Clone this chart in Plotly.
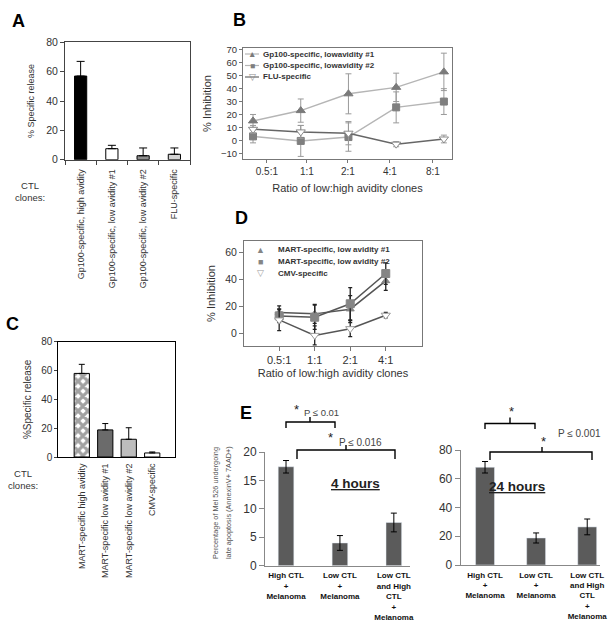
import plotly.graph_objects as go

W, H = 614, 626
def px(x): return x / W
def py(y): return 1 - y / H

FONT = "Liberation Sans, Arial, sans-serif"

# ---------------- data ----------------
# Panel A
a_clones = ["Gp100-specific, high avidity", "Gp100-specific, low avidity #1",
            "Gp100-specific, low avidity #2", "FLU-specific"]
a_release = [57, 7.5, 2.7, 3.7]
a_err = [10, 2.3, 5.3, 4.3]

# Panel B
b_ratios = ["0.5:1", "1:1", "2:1", "4:1", "8:1"]
b_names = ["Gp100-specific, lowavidity #1", "Gp100-specific, lowavidity #2", "FLU-specific"]
b_gp1 = [15, 23, 36, 41, 53]
b_gp1_err = [5, 9, 15.5, 11, 14.5]
b_gp2 = [3, -0.5, 2.5, 25.5, 30]
b_gp2_err = [5, 12, 11, 12, 10]
b_flu = [8.5, 6.5, 5.5, -3, 1]
b_flu_err = [3, 5, 9, 2, 3]

# Panel C
c_clones = ["MART-specific high avidity", "MART-specific low avidity #1",
            "MART-specific low avidity #2", "CMV-specific"]
c_release = [58, 18.8, 12.3, 2.8]
c_err = [6.3, 4.4, 8, 0.7]

# Panel D
d_ratios = ["0.5:1", "1:1", "2:1", "4:1"]
d_names = ["MART-specific, low avidity #1", "MART-specific, low avidity #2", "CMV-specific"]
d_m1 = [15.5, 14.5, 18, 39]
d_m1_err = [5, 7, 10, 7]
d_m2 = [13, 12, 22, 44.5]
d_m2_err = [5, 9, 12, 8]
d_cmv = [10, -1.5, 3.5, 13.5]
d_cmv_err = [8, 7, 6, 2]

# Panel E
e_groups = ["High CTL<br>+<br>Melanoma", "Low CTL<br>+<br>Melanoma",
            "Low CTL<br>and High<br>CTL<br>+<br>Melanoma"]
e_4h = [17.4, 4.0, 7.6]
e_4h_err = [1.1, 1.3, 1.65]
e_24h = [68, 18.8, 26.5]
e_24h_err = [4, 3.5, 5.5]

# ---------------- styles ----------------
a_colors = ["#000000", "#ffffff", "#8f8f8f", "#d4d4d4"]
c_colors = ["#ffffff", "#6b6b6b", "#bdbdbd", "#ffffff"]
c_patterns = ["x", "", "", ""]

fig = go.Figure()

# A
fig.add_trace(go.Bar(
    x=a_clones, y=a_release, width=0.39, xaxis="x", yaxis="y", showlegend=False,
    marker=dict(color=a_colors, line=dict(color="black", width=1)),
    error_y=dict(type="data", array=a_err, arrayminus=[0] * len(a_err), symmetric=False,
                 color="black", thickness=1, width=4)))

# B
b_x = list(range(len(b_ratios)))
b_series = [
    (b_names[0], b_gp1, b_gp1_err, "triangle-up", "#7a7a7a", "#7a7a7a", "#b5b5b5", 8),
    (b_names[1], b_gp2, b_gp2_err, "square", "#7f7f7f", "#7f7f7f", "#b5b5b5", 7),
    (b_names[2], b_flu, b_flu_err, "triangle-down", "#ffffff", "#8a8a8a", "#666666", 8),
]
for name, yv, ev, sym, fc, lc, linec, sz in b_series:
    fig.add_trace(go.Scatter(
        x=b_x, y=yv, name=name, mode="lines+markers", xaxis="x2", yaxis="y2", showlegend=False,
        line=dict(color=linec, width=1.5),
        marker=dict(symbol=sym, size=sz, color=fc, line=dict(color=lc, width=1)),
        error_y=dict(type="data", array=ev, color="#9a9a9a", thickness=1, width=3)))

# C
fig.add_trace(go.Bar(
    x=c_clones, y=c_release, width=0.65, xaxis="x3", yaxis="y3", showlegend=False,
    marker=dict(color=c_colors, line=dict(color="black", width=1),
                pattern=dict(shape=c_patterns, fgcolor="black", bgcolor=c_colors,
                             size=7, solidity=0.7)),
    error_y=dict(type="data", array=c_err, arrayminus=[0] * len(c_err), symmetric=False,
                 color="black", thickness=1, width=3)))

# D
d_x = list(range(len(d_ratios)))
d_series = [
    (d_names[0], d_m1, d_m1_err, "triangle-up", "#858585", "#858585", 7),
    (d_names[1], d_m2, d_m2_err, "square", "#858585", "#858585", 8),
    (d_names[2], d_cmv, d_cmv_err, "triangle-down", "#ffffff", "#9a9a9a", 8),
]
for name, yv, ev, sym, fc, lc, sz in d_series:
    fig.add_trace(go.Scatter(
        x=d_x, y=yv, name=name, mode="lines+markers", xaxis="x4", yaxis="y4", showlegend=False,
        line=dict(color="#555555", width=1.5),
        marker=dict(symbol=sym, size=sz, color=fc, line=dict(color=lc, width=1)),
        error_y=dict(type="data", array=ev, color="#222222", thickness=1.3, width=2)))

# E
fig.add_trace(go.Bar(
    x=e_groups, y=e_4h, width=0.29, xaxis="x5", yaxis="y5", showlegend=False,
    marker=dict(color="#5b5b5b"),
    error_y=dict(type="data", array=e_4h_err, color="black", thickness=1, width=3)))
fig.add_trace(go.Bar(
    x=e_groups, y=e_24h, width=0.37, xaxis="x6", yaxis="y6", showlegend=False,
    marker=dict(color="#5b5b5b"),
    error_y=dict(type="data", array=e_24h_err, color="black", thickness=1, width=3)))

# ---------------- axes ----------------
def tf(size, color="#333333", bold=False):
    return dict(family=FONT, size=size, color=color, weight="bold" if bold else "normal")

common = dict(showgrid=False, zeroline=False, showline=True, automargin=False)

layout = dict(
    width=W, height=H, margin=dict(l=0, r=0, t=0, b=0),
    paper_bgcolor="white", plot_bgcolor="white",
    font=dict(family=FONT, color="#333333"),
    bargap=0.3,
    # A
    xaxis=dict(**common, domain=[px(65), px(190)], anchor="y", type="category",
               range=[-0.5, 3.5], tickson="boundaries", ticks="outside", ticklen=4,
               tickangle=-90, tickfont=tf(9), linecolor="#444", mirror=True,
               ticklabelstandoff=5, tickcolor="#444"),
    yaxis=dict(**common, domain=[py(159.7), py(42.3)], anchor="x", range=[0, 80], dtick=20,
               ticks="outside", ticklen=4, tickfont=tf(10.5), linecolor="#444", mirror=True,
               tickcolor="#444",
               title=dict(text="% Specific release", font=tf(9), standoff=10)),
    # B
    xaxis2=dict(**common, domain=[px(243), px(452)], anchor="y2", range=[-0.21, 4.17],
                tickvals=[0.29, 1.13, 1.99, 2.87, 3.77], ticktext=b_ratios,
                ticks="outside", ticklen=3, tickfont=tf(10), linecolor="#777", mirror=True,
                tickcolor="#777",
                title=dict(text="Ratio of low:high avidity clones", font=tf(11), standoff=8)),
    yaxis2=dict(**common, domain=[py(159), py(48)], anchor="x2", range=[-14.5, 71.5],
                tickvals=[-10, 0, 10, 20, 30, 40, 50, 60, 70], ticks="outside", ticklen=3,
                tickfont=tf(9.5), linecolor="#777", mirror=True, tickcolor="#777",
                title=dict(text="% Inhibition", font=tf(11), standoff=7)),
    # C
    xaxis3=dict(**common, domain=[px(58.3), px(175)], anchor="y3", type="category",
                range=[-1, 3.97], ticks="", tickangle=-90, tickfont=tf(9),
                linecolor="black", mirror=True, ticklabelstandoff=2),
    yaxis3=dict(**common, domain=[py(457), py(341.7)], anchor="x3", range=[0, 80], dtick=20,
                ticks="outside", ticklen=3, tickfont=tf(10), linecolor="black", mirror=True,
                title=dict(text="%Specific release", font=tf(10), standoff=7)),
    # D
    xaxis4=dict(**common, domain=[px(244), px(422)], anchor="y4", range=[-0.99, 4.02],
                tickvals=d_x, ticktext=d_ratios, ticks="outside", ticklen=4,
                tickfont=tf(11), linecolor="#777", mirror=True, tickcolor="#777",
                title=dict(text="Ratio of low:high avidity clones", font=tf(11), standoff=4)),
    yaxis4=dict(**common, domain=[py(346), py(241)], anchor="x4", range=[-9.4, 68.7],
                tickvals=[0, 20, 40, 60], ticks="outside", ticklen=4, tickfont=tf(10.5),
                linecolor="#777", mirror=True, tickcolor="#777",
                title=dict(text="% Inhibition", font=tf(11), standoff=7)),
    # E left
    xaxis5=dict(**common, domain=[px(265), px(410)], anchor="y5", type="category",
                range=[-0.39, 2.3], ticks="", tickfont=tf(8, "#111", True),
                linecolor="#888", ticklabelstandoff=2),
    yaxis5=dict(**common, domain=[py(565.7), py(452)], anchor="x5", range=[0, 20], dtick=5,
                ticks="outside", ticklen=5, tickfont=tf(12), linecolor="#888", tickcolor="#888"),
    # E right
    xaxis6=dict(**common, domain=[px(460.7), px(600)], anchor="y6", type="category",
                range=[-0.476, 2.25], ticks="", tickfont=tf(8, "#111", True),
                linecolor="#888", ticklabelstandoff=2),
    yaxis6=dict(**common, domain=[py(565), py(450)], anchor="x6", range=[0, 80], dtick=20,
                ticks="outside", ticklen=5, tickfont=tf(12), linecolor="#888", tickcolor="#888"),
)
fig.update_layout(**layout)

# ---------------- annotations & shapes ----------------
ann = []
shapes = []

def text(x, y, t, size, color="#333333", bold=False, xanchor="center", angle=0):
    ann.append(dict(x=px(x), y=py(y), xref="paper", yref="paper", text=t, showarrow=False,
                    font=tf(size, color, bold), xanchor=xanchor, yanchor="middle",
                    textangle=angle))

# panel letters
for L, x, y in [("A", 18.5, 21), ("B", 239, 20), ("C", 12.5, 324), ("D", 241, 218), ("E", 246, 413)]:
    text(x, y, L, 18, "black", True)

# CTL clones labels
text(30, 191, "CTL<br>clones:", 9.5)
text(23, 479, "CTL<br>clones:", 9.5)

# legend B (manual, compact)
b_rows = [54, 65.5, 77]
b_glyph = ["▲", "■", "▽"]
for (name, yv, ev, sym, fc, lc, linec, sz), row, g in zip(b_series, b_rows, b_glyph):
    shapes.append(dict(type="line", xref="paper", yref="paper", x0=px(245), x1=px(259),
                       y0=py(row), y1=py(row), line=dict(color=linec, width=1.2)))
    text(252, row, g, 8.5, lc)
    text(261, row, name, 8, "#333", True, xanchor="left")

# legend D
d_rows = [250, 261.5, 273]
d_glyph = ["▲", "■", "▽"]
for (name, yv, ev, sym, fc, lc, sz), row, g in zip(d_series, d_rows, d_glyph):
    text(260, row, g, 9, lc)
    text(276, row, name, 8, "#333", True, xanchor="left")

# E titles
text(216, 503, "Percentage of Mel 526 undergoing", 7.3, "#555", angle=-90)
text(229, 503, "late apoptosis (AnnexinV+ 7AAD+)", 7.3, "#555", angle=-90)
ann.append(dict(x=px(355), y=py(493), xref="paper", yref="paper", text="<u>4 hours</u>",
                showarrow=False, font=tf(13.5, "#222", True)))
ann.append(dict(x=px(547), y=py(496), xref="paper", yref="paper", text="<u>24 hours</u>",
                showarrow=False, font=tf(13.5, "#222", True)))

def brace(x1, x2, y_end, y_bar, xc, y_top):
    p = (f"M {px(x1)},{py(y_end)} L {px(x1)},{py(y_bar)} L {px(x2)},{py(y_bar)} "
         f"L {px(x2)},{py(y_end)} M {px(xc)},{py(y_bar)} L {px(xc)},{py(y_top)}")
    shapes.append(dict(type="path", xref="paper", yref="paper", path=p,
                       line=dict(color="black", width=1.4)))

brace(286, 335, 428, 422, 310, 417)
brace(297, 395, 459, 450, 346, 445)
brace(485, 535, 429, 423.5, 510, 417.5)
brace(490, 592, 460, 452, 542, 447)

text(296.5, 409, "*", 13, "#222")
text(302, 412, "P ≤ 0.01", 9.5, "#444", xanchor="left")
text(330, 437.5, "*", 13, "#222")
text(337, 442, "P ≤ 0.016", 10, "#444", xanchor="left")
text(511.5, 411, "*", 13, "#222")
text(556, 433, "P ≤ 0.001", 10, "#444", xanchor="left")
text(543, 441, "*", 13, "#222")

fig.update_layout(annotations=ann, shapes=shapes)
fig.write_html("out.html", config={"displayModeBar": False},
               post_script="document.body.style.margin='0';document.body.style.overflow='hidden';")
